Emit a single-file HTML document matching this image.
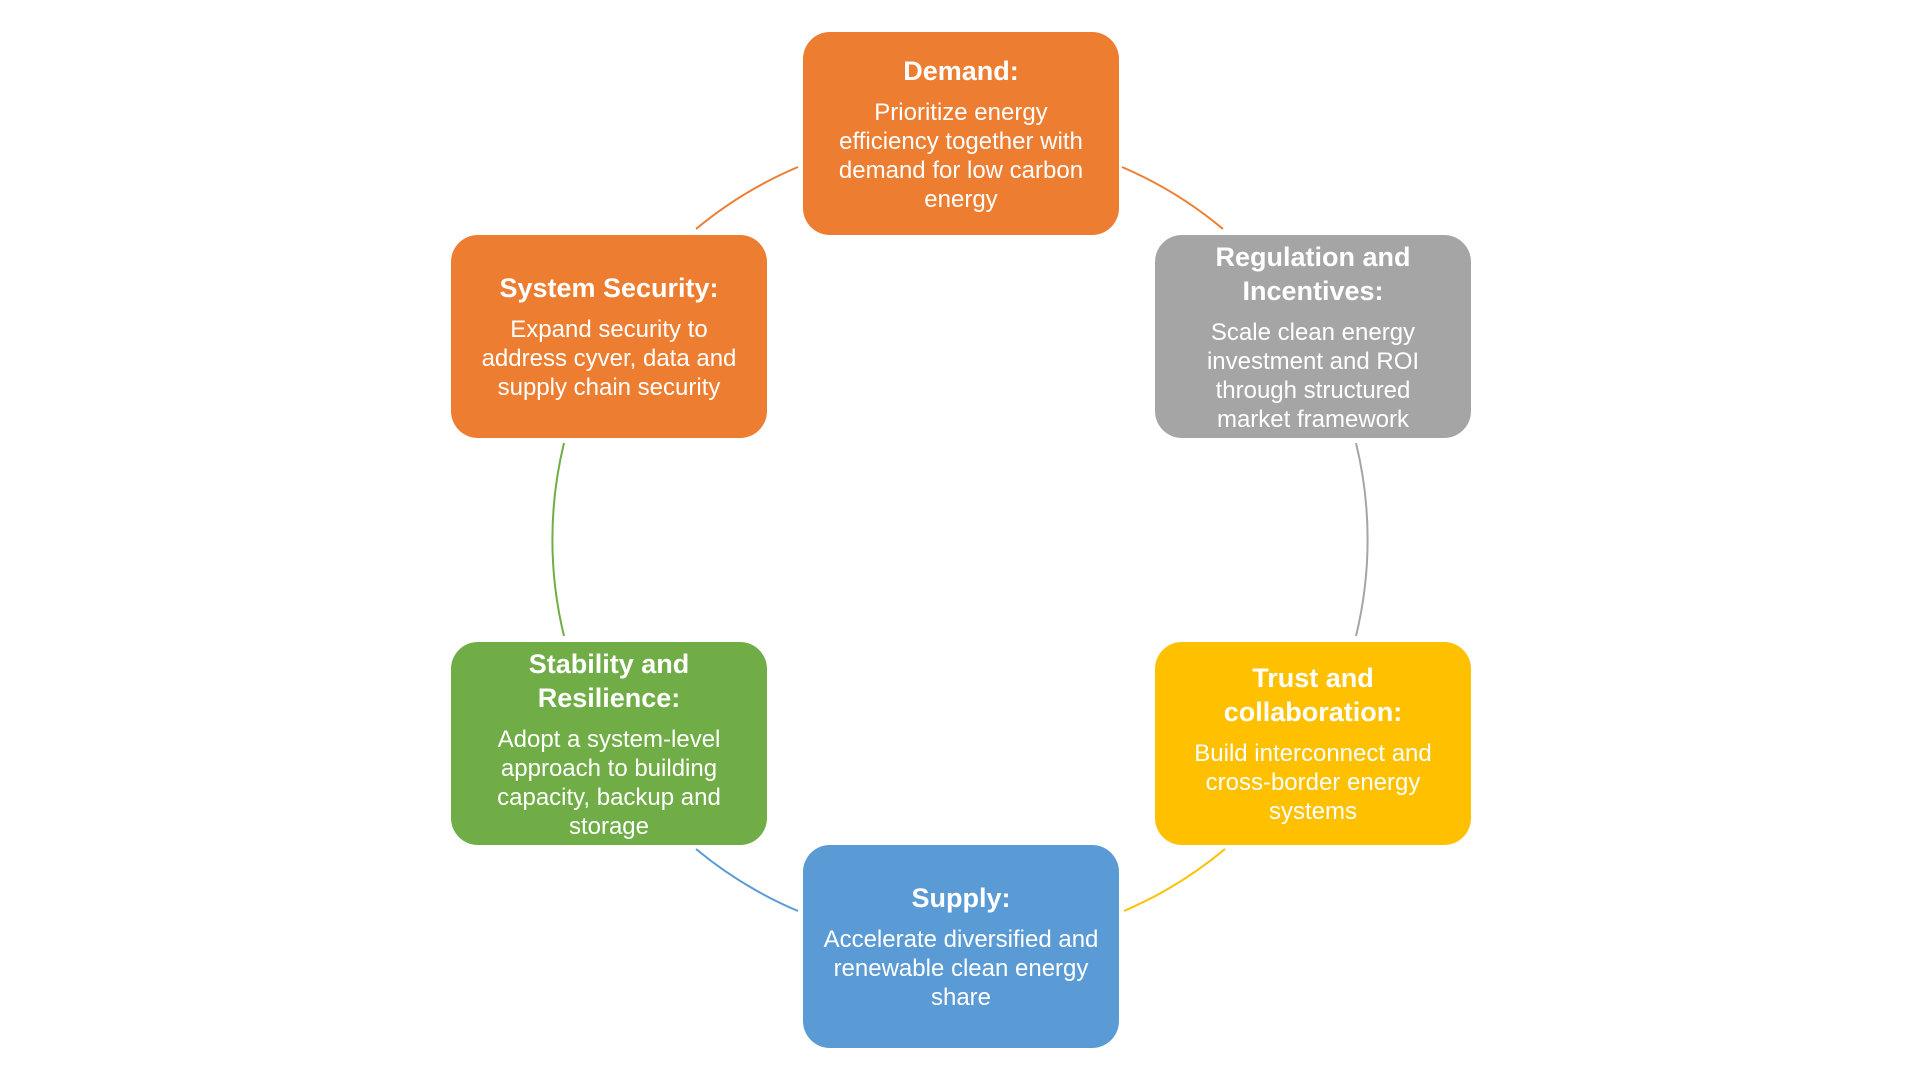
<!DOCTYPE html>
<html><head><meta charset="utf-8"><style>
body{margin:0;width:1920px;height:1080px;background:#fff;position:relative;overflow:hidden;font-family:"Liberation Sans Narrow","Liberation Sans",sans-serif;}
.b{position:absolute;width:316px;height:203px;border-radius:27px;color:#fff;display:flex;flex-direction:column;justify-content:center;align-items:center;text-align:center;white-space:nowrap}
.t{font-weight:bold;font-size:27px;line-height:34px;margin-bottom:10px}
.d{font-size:24px;line-height:29px}
</style></head><body>
<svg width="1920" height="1080" style="position:absolute;left:0;top:0" fill="none" stroke-width="2">
<path d="M1122 167 A407 407 0 0 1 1223 229" stroke="#ED7D31"/>
<path d="M1356 443 A407 407 0 0 1 1356 636" stroke="#A5A5A5"/>
<path d="M1225 849 A407 407 0 0 1 1124 911" stroke="#FFC000"/>
<path d="M798 911 A407 407 0 0 1 696 849" stroke="#5B9BD5"/>
<path d="M564 636 A407 407 0 0 1 564 443" stroke="#70AD47"/>
<path d="M696 229 A407 407 0 0 1 798 167" stroke="#ED7D31"/>
</svg>
<div class="b" style="left:803px;top:32px;background:#ED7D31"><div class="t">Demand:</div><div class="d">Prioritize energy<br>efficiency together with<br>demand for low carbon<br>energy</div></div>
<div class="b" style="left:451px;top:235px;background:#ED7D31"><div class="t">System Security:</div><div class="d">Expand security to<br>address cyver, data and<br>supply chain security</div></div>
<div class="b" style="left:1155px;top:235px;background:#A5A5A5"><div class="t">Regulation and<br>Incentives:</div><div class="d">Scale clean energy<br>investment and ROI<br>through structured<br>market framework</div></div>
<div class="b" style="left:451px;top:642px;background:#70AD47"><div class="t">Stability and<br>Resilience:</div><div class="d">Adopt a system-level<br>approach to building<br>capacity, backup and<br>storage</div></div>
<div class="b" style="left:1155px;top:642px;background:#FFC000"><div class="t">Trust and<br>collaboration:</div><div class="d">Build interconnect and<br>cross-border energy<br>systems</div></div>
<div class="b" style="left:803px;top:845px;background:#5B9BD5"><div class="t">Supply:</div><div class="d">Accelerate diversified and<br>renewable clean energy<br>share</div></div>
</body></html>
